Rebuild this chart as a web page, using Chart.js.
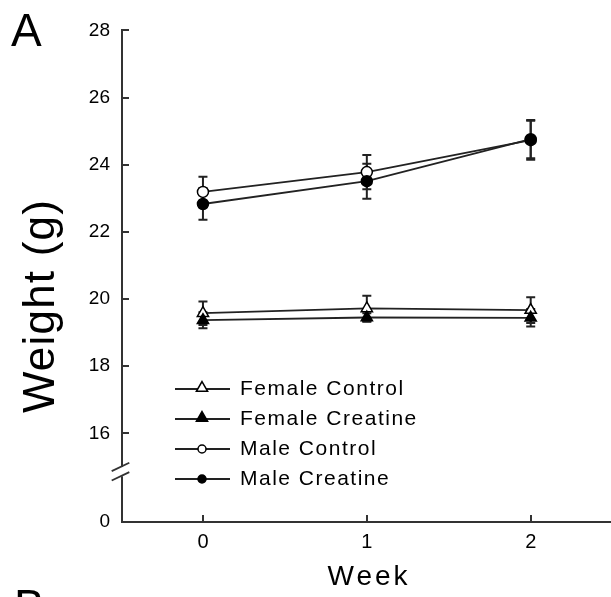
<!DOCTYPE html>
<html>
<head>
<meta charset="utf-8">
<title>Weight by week</title>
<script src="https://cdn.jsdelivr.net/npm/chart.js@4.4.1/dist/chart.umd.min.js"></script>
<style>
  body { margin: 0; background: #fff; }
  canvas { display: block; }
</style>
</head>
<body>
<canvas id="weightChart" width="611" height="597"></canvas>
<script>
// Data
const weeks = [0, 1, 2];
const seriesNames = ['Female Control', 'Female Creatine', 'Male Control', 'Male Creatine'];
const femaleControl = [19.58, 19.72, 19.67];
const femaleCreatine = [19.37, 19.45, 19.44];
const maleControl = [23.19, 23.78, 24.73];
const maleCreatine = [22.83, 23.51, 24.76];
const femaleControlErr = [0.35, 0.38, 0.38];
const femaleCreatineErr = [0.24, 0.13, 0.26];
const maleControlErr = [0.45, 0.51, 0.58];
const maleCreatineErr = [0.47, 0.52, 0.57];
const xTicks = [0, 1, 2];
const yTicks = [0, 16, 18, 20, 22, 24, 26, 28];

// the y axis is broken: "0" sits below the break
const zeroAt = 13.36;
const breakAt = 14.86;

const FONT = '"Liberation Sans", Arial, sans-serif';
const INK = '#222';

function makeSet(label, values, errors, style, filled, order) {
    return {
        label: label,
        data: weeks.map((w, i) => ({ x: w, y: values[i] })),
        errors: errors,
        borderColor: INK,
        borderWidth: 1.8,
        pointStyle: style,
        pointRadius: style === 'triangle' ? 6.5 : 5.5,
        pointHoverRadius: style === 'triangle' ? 6.5 : 5.5,
        pointBackgroundColor: filled ? '#000' : '#fff',
        pointBorderColor: '#000',
        pointBorderWidth: 1.5,
        order: order,
        tension: 0
    };
}

const datasets = [
    makeSet(seriesNames[0], femaleControl, femaleControlErr, 'triangle', false, 1),
    makeSet(seriesNames[1], femaleCreatine, femaleCreatineErr, 'triangle', true, 0),
    makeSet(seriesNames[2], maleControl, maleControlErr, 'circle', false, 1),
    makeSet(seriesNames[3], maleCreatine, maleCreatineErr, 'circle', true, 0)
];

// error bars under the markers
const errorBars = {
    id: 'errorBars',
    beforeDatasetsDraw(chart) {
        const ctx = chart.ctx;
        const xs = chart.scales.x, ys = chart.scales.y;
        ctx.save();
        ctx.strokeStyle = INK;
        ctx.lineWidth = 2;
        chart.data.datasets.forEach(ds => {
            ds.data.forEach((p, i) => {
                const x = xs.getPixelForValue(p.x);
                const top = ys.getPixelForValue(p.y + ds.errors[i]);
                const bot = ys.getPixelForValue(p.y - ds.errors[i]);
                ctx.beginPath();
                ctx.moveTo(x, top); ctx.lineTo(x, bot);
                ctx.moveTo(x - 4.5, top); ctx.lineTo(x + 4.5, top);
                ctx.moveTo(x - 4.5, bot); ctx.lineTo(x + 4.5, bot);
                ctx.stroke();
            });
        });
        ctx.restore();
    }
};

// axis break, legend, titles and panel letters
const decorations = {
    id: 'decorations',
    afterDraw(chart) {
        const ctx = chart.ctx;
        const area = chart.chartArea;
        const yb = chart.scales.y.getPixelForValue(breakAt);
        ctx.save();

        // break in the y axis
        ctx.fillStyle = '#fff';
        ctx.fillRect(area.left - 3, yb - 4.6, 6, 9.2);
        ctx.strokeStyle = '#333';
        ctx.lineWidth = 1.8;
        [-4.7, 4.7].forEach(dy => {
            const cx = area.left - 1.5, cy = yb + dy;
            ctx.beginPath();
            ctx.moveTo(cx - 8.8, cy + 4.2);
            ctx.lineTo(cx + 8.8, cy - 4.2);
            ctx.stroke();
        });

        // legend
        chart.data.datasets.forEach((ds, i) => {
            const y = 389 + i * 30;
            ctx.strokeStyle = INK;
            ctx.lineWidth = 1.8;
            ctx.beginPath();
            ctx.moveTo(175, y); ctx.lineTo(230, y);
            ctx.stroke();
            ctx.fillStyle = ds.pointBackgroundColor;
            ctx.strokeStyle = ds.pointBorderColor;
            ctx.lineWidth = 1.5;
            Chart.helpers.drawPoint(ctx, {
                pointStyle: ds.pointStyle,
                radius: ds.pointStyle === 'triangle' ? 6.5 : 4,
                borderWidth: 1.5,
                rotation: 0
            }, 202, ds.pointStyle === 'triangle' ? y - 1 : y);
            ctx.fillStyle = '#000';
            ctx.font = '21px ' + FONT;
            ctx.letterSpacing = '1.5px';
            ctx.textAlign = 'left';
            ctx.textBaseline = 'middle';
            ctx.fillText(ds.label, 240, y);
        });

        // axis titles
        ctx.fillStyle = '#000';
        ctx.letterSpacing = '3px';
        ctx.font = '28px ' + FONT;
        ctx.textAlign = 'center';
        ctx.textBaseline = 'alphabetic';
        ctx.fillText('Week', 369, 585);

        ctx.save();
        ctx.letterSpacing = '1.2px';
        ctx.font = '44px ' + FONT;
        ctx.translate(53.5, 306);
        ctx.rotate(-Math.PI / 2);
        ctx.fillText('Weight (g)', 0, 0);
        ctx.restore();

        // panel letters
        ctx.letterSpacing = '0px';
        ctx.font = '46px ' + FONT;
        ctx.textAlign = 'left';
        ctx.fillText('A', 11, 46);
        ctx.fillText('B', 14, 622);
        ctx.restore();
    }
};

new Chart(document.getElementById('weightChart'), {
    type: 'line',
    data: { datasets: datasets },
    options: {
        responsive: false,
        animation: false,
        events: [],
        layout: { autoPadding: false, padding: { top: 29, left: 0, right: 0, bottom: 0 } },
        plugins: {
            legend: { display: false },
            tooltip: { enabled: false }
        },
        scales: {
            x: {
                type: 'linear',
                min: -0.494,
                max: 2.49,
                afterBuildTicks: s => { s.ticks = xTicks.map(v => ({ value: v })); },
                afterFit: s => { s.height = 75; },
                border: { color: '#333', width: 2 },
                grid: { drawOnChartArea: false, tickLength: -7, color: '#333', lineWidth: 2 },
                ticks: {
                    padding: 15,
                    color: '#000',
                    font: { family: FONT, size: 20 }
                }
            },
            y: {
                min: zeroAt,
                max: 28,
                afterBuildTicks: s => { s.ticks = yTicks.map(v => ({ value: v === 0 ? zeroAt : v })); },
                afterFit: s => { s.width = 122; },
                border: { color: '#333', width: 2 },
                grid: { drawOnChartArea: false, tickLength: -7, color: '#333', lineWidth: 2 },
                ticks: {
                    padding: 19,
                    color: '#000',
                    font: { family: FONT, size: 19 },
                    callback: v => v === zeroAt ? '0' : String(v)
                }
            }
        }
    },
    plugins: [errorBars, decorations]
});
</script>
</body>
</html>
